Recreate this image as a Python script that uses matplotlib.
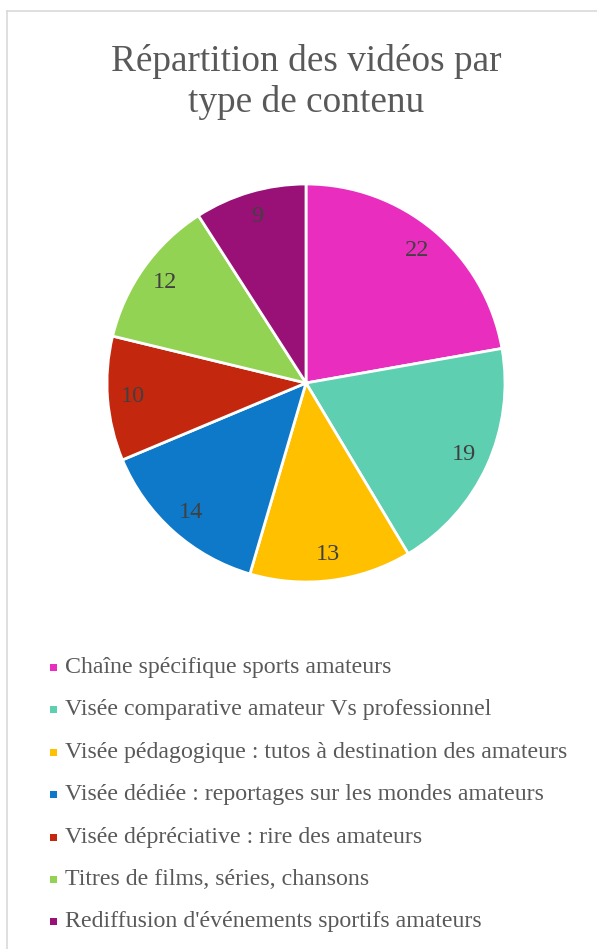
import matplotlib.pyplot as plt
from matplotlib.patches import Rectangle
from matplotlib.lines import Line2D

plt.rcParams['font.family'] = ['Liberation Serif', 'DejaVu Serif']

# données
categories = [
    "Chaîne spécifique sports amateurs",
    "Visée comparative amateur Vs professionnel",
    "Visée pédagogique : tutos à destination des amateurs",
    "Visée dédiée : reportages sur les mondes amateurs",
    "Visée dépréciative : rire des amateurs",
    "Titres de films, séries, chansons",
    "Rediffusion d'événements sportifs amateurs",
]
values = [22, 19, 13, 14, 10, 12, 9]
colors = ['#E92EBF', '#5ECFB1', '#FFC000', '#0F79C9', '#C3270E', '#93D353', '#991177']
title = "Répartition des vidéos par\ntype de contenu"

W, H = 597, 949
fig = plt.figure(figsize=(W / 100, H / 100), dpi=100)

# cadre gris clair (haut et gauche)
fig.add_artist(Line2D([7 / W, 1], [1 - 11 / H, 1 - 11 / H], color='#d9d9d9', lw=1.2))
fig.add_artist(Line2D([7 / W, 7 / W], [0, 1 - 11 / H], color='#d9d9d9', lw=1.2))

fig.text(306 / W, 1 - 82 / H, title, ha='center', va='center', fontsize=26.8,
         color='#595959', linespacing=1.2)

# camembert
cx, cy, r = 306, 383, 201
ax = fig.add_axes([(cx - r) / W, (H - cy - r) / H, 2 * r / W, 2 * r / H])
wedges, texts, autotexts = ax.pie(
    values, colors=colors, startangle=90, counterclock=False,
    autopct=lambda p: '%d' % round(p * sum(values) / 100), pctdistance=0.87,
    wedgeprops=dict(edgecolor='white', linewidth=2),
    textprops=dict(fontsize=17.5, color='#404040'))
ax.set_xlim(-1.01, 1.01)
ax.set_ylim(-1.01, 1.01)
ax.axis('off')

# légende
y0, dy = 667.5, 42.4
for i, (lab, col) in enumerate(zip(categories, colors)):
    y = y0 + i * dy
    fig.add_artist(Rectangle((50 / W, 1 - (y + 3.5) / H), 7 / W, 7 / H,
                             facecolor=col, edgecolor='none', transform=fig.transFigure))
    fig.text(65 / W, 1 - y / H, lab, ha='left', va='center', fontsize=17.2, color='#595959')

fig.savefig('out.png', dpi=100)
